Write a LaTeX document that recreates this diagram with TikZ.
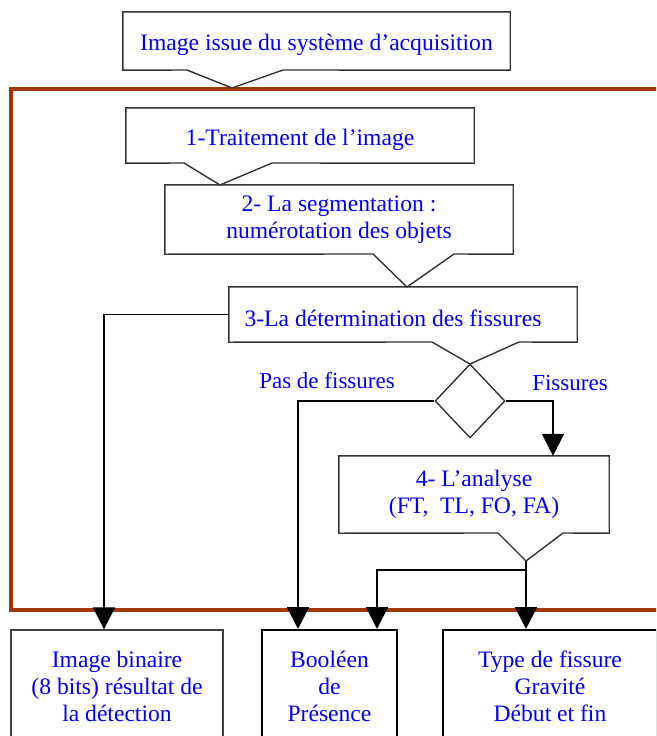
\documentclass[tikz,border=0pt]{standalone}
\usepackage{fontspec}
\setmainfont{Liberation Serif}
\usetikzlibrary{arrows.meta,shapes.geometric}
\definecolor{cadre}{RGB}{160,56,8}
\begin{document}
\begin{tikzpicture}[x=1pt,y=-1pt,
  etape/.style={text=blue,align=center,inner sep=0pt,font=\fontsize{23.6}{27}\selectfont},
  bulle/.style={etape,execute at begin node={\rule{0pt}{25pt}}},
  bord/.style={draw=black!80,line width=1.4pt},
  sortie/.style={etape,draw,line width=2pt,minimum height=112},
  etiq/.style={text=blue,inner sep=0pt,font=\fontsize{23}{27}\selectfont},
  fleche/.style={draw,line width=1.8pt,-{Triangle[width=22pt,length=22pt]}}]
\useasboundingbox (0,0) rectangle (656,736);
\clip (0,0) rectangle (656,736);

\draw[cadre,line width=4pt] (11,89) rectangle (720,610);

\node[bulle,minimum width=387,minimum height=58] (src) at (316.5,41) {Image issue du système d'acquisition};
\node[bulle,minimum width=348,minimum height=55] (t1) at (300,135.5) {1-Traitement de l'image};
\node[bulle,minimum width=348,minimum height=69] (t2) at (339,219.5) {2- La segmentation :\\numérotation des objets};
\node[bulle,minimum width=348,minimum height=55] (t3) at (403,314.5) {3-La détermination des fissures\hspace{20pt}};
\node[bulle,minimum width=270,minimum height=77] (t4) at (474,494.5) {4- L'analyse\\(FT,~ TL, FO, FA)};
\node[bord,shape=diamond,minimum width=70,minimum height=74,inner sep=0pt] (dia) at (470,401) {};

% pointes des bulles
\coordinate (tip0) at (232,88);
\coordinate (tip1) at (220,185);
\coordinate (tip2) at (407,287);
\coordinate (tip3) at (470,364);
\coordinate (tip4) at (526,561);
\draw[bord] (tip0) -- (283,70) -- (src.south east) -- (src.north east) -- (src.north west) -- (src.south west) -- (187,70) -- cycle;
\draw[bord] (tip1) -- (272,163) -- (t1.south east) -- (t1.north east) -- (t1.north west) -- (t1.south west) -- (184,163) -- cycle;
\draw[bord] (tip2) -- (454,254) -- (t2.south east) -- (t2.north east) -- (t2.north west) -- (t2.south west) -- (373,254) -- cycle;
\draw[bord] (tip3) -- (519,342) -- (t3.south east) -- (t3.north east) -- (t3.north west) -- (t3.south west) -- (432,342) -- cycle;
\draw[bord] (tip4) -- (563,533) -- (t4.south east) -- (t4.north east) -- (t4.north west) -- (t4.south west) -- (498,533) -- cycle;

\node[sortie,draw=black!75,line width=1.4pt,minimum width=212] (out1) at (117,686) {Image binaire\\(8 bits) résultat de\\la détection};
\node[sortie,minimum width=135] (out2) at (329.5,686) {Booléen\\de\\Présence};
\node[sortie,minimum width=214] (out3) at (550,686) {Type de fissure\\Gravité\\Début et fin};

\node[etiq] (pas) at (327,381) {Pas de fissures};
\node[etiq] (fis) at (570,383) {Fissures};

\coordinate (k1) at (104,314.5);
\coordinate (k2) at (298,401);
\coordinate (k3) at (553,401);
\coordinate (k4) at (526,570);
\coordinate (k5) at (377,570);
\draw[fleche] (t3.west) -- (k1) -- (k1 |- out1.north);
\draw[fleche] (dia.west) -- (k2) -- (k2 |- out2.north);
\draw[fleche] (dia.east) -- (k3) -- (k3 |- t4.north);
\draw[fleche] (tip4) -- (k4) -- (k4 |- out3.north);
\draw[fleche] (k4) -- (k5) -- (k5 |- out2.north);
\end{tikzpicture}
\end{document}
